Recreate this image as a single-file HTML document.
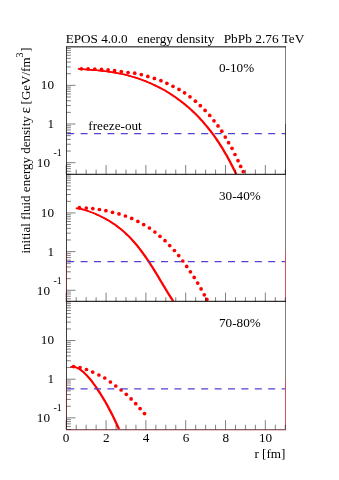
<!DOCTYPE html>
<html><head><meta charset="utf-8"><title>EPOS energy density</title>
<style>
html,body{margin:0;padding:0;background:#fff;}
body{width:339px;height:480px;position:relative;overflow:hidden;font-family:"Liberation Serif",serif;}
svg{will-change:transform;}
.t{font-family:"Liberation Serif",serif;font-size:13.2px;fill:#000;}
.s{font-family:"Liberation Serif",serif;font-size:10px;fill:#000;}
</style></head><body>
<svg width="339" height="480" viewBox="0 0 339 480" style="position:absolute;left:0;top:0">
<rect width="339" height="480" fill="#fff"/>
<clipPath id="c0"><rect x="66.50" y="46.70" width="219.00" height="127.60"/></clipPath>
<g clip-path="url(#c0)" fill="none" stroke="#ff0000" stroke-width="1.5"><path d="M78.30 68.83 C78.63 68.86 79.63 68.94 80.30 69.00 C80.97 69.05 81.63 69.10 82.30 69.15 C82.97 69.20 83.63 69.25 84.30 69.31 C84.97 69.36 85.63 69.41 86.30 69.46 C86.97 69.51 87.63 69.56 88.30 69.61 C88.97 69.66 89.63 69.71 90.30 69.77 C90.97 69.82 91.63 69.87 92.30 69.93 C92.97 69.98 93.63 70.04 94.30 70.10 C94.97 70.15 95.63 70.21 96.30 70.27 C96.97 70.34 97.63 70.40 98.30 70.46 C98.97 70.53 99.63 70.60 100.30 70.67 C100.97 70.74 101.63 70.81 102.30 70.88 C102.97 70.96 103.63 71.04 104.30 71.12 C104.97 71.20 105.63 71.28 106.30 71.37 C106.97 71.45 107.63 71.54 108.30 71.64 C108.97 71.73 109.63 71.83 110.30 71.93 C110.97 72.03 111.63 72.13 112.30 72.24 C112.97 72.34 113.63 72.45 114.30 72.57 C114.97 72.68 115.63 72.80 116.30 72.92 C116.97 73.04 117.63 73.17 118.30 73.30 C118.97 73.43 119.63 73.56 120.30 73.70 C120.97 73.84 121.63 73.98 122.30 74.13 C122.97 74.28 123.63 74.43 124.30 74.59 C124.97 74.74 125.63 74.90 126.30 75.07 C126.97 75.23 127.63 75.40 128.30 75.58 C128.97 75.75 129.63 75.93 130.30 76.11 C130.97 76.30 131.63 76.49 132.30 76.68 C132.97 76.88 133.63 77.07 134.30 77.28 C134.97 77.48 135.63 77.69 136.30 77.90 C136.97 78.12 137.63 78.34 138.30 78.56 C138.97 78.79 139.63 79.02 140.30 79.25 C140.97 79.49 141.63 79.73 142.30 79.97 C142.97 80.22 143.63 80.47 144.30 80.72 C144.97 80.98 145.63 81.24 146.30 81.51 C146.97 81.78 147.63 82.05 148.30 82.33 C148.97 82.61 149.63 82.90 150.30 83.19 C150.97 83.48 151.63 83.78 152.30 84.08 C152.97 84.38 153.63 84.69 154.30 85.01 C154.97 85.32 155.63 85.64 156.30 85.97 C156.97 86.30 157.63 86.63 158.30 86.97 C158.97 87.31 159.63 87.66 160.30 88.01 C160.97 88.36 161.63 88.72 162.30 89.09 C162.97 89.45 163.63 89.83 164.30 90.21 C164.97 90.59 165.63 90.97 166.30 91.37 C166.97 91.76 167.63 92.16 168.30 92.57 C168.97 92.98 169.63 93.40 170.30 93.82 C170.97 94.24 171.63 94.67 172.30 95.11 C172.97 95.55 173.63 96.00 174.30 96.45 C174.97 96.91 175.63 97.37 176.30 97.84 C176.97 98.31 177.63 98.79 178.30 99.27 C178.97 99.76 179.63 100.26 180.30 100.76 C180.97 101.27 181.63 101.78 182.30 102.30 C182.97 102.83 183.63 103.36 184.30 103.90 C184.97 104.44 185.63 104.99 186.30 105.55 C186.97 106.11 187.63 106.68 188.30 107.26 C188.97 107.84 189.63 108.44 190.30 109.04 C190.97 109.64 191.63 110.25 192.30 110.87 C192.97 111.50 193.63 112.13 194.30 112.78 C194.97 113.42 195.63 114.08 196.30 114.75 C196.97 115.42 197.63 116.10 198.30 116.79 C198.97 117.49 199.63 118.19 200.30 118.91 C200.97 119.63 201.63 120.36 202.30 121.11 C202.97 121.86 203.63 122.62 204.30 123.39 C204.97 124.16 205.63 124.95 206.30 125.75 C206.97 126.56 207.63 127.37 208.30 128.21 C208.97 129.04 209.63 129.89 210.30 130.75 C210.97 131.62 211.63 132.50 212.30 133.39 C212.97 134.29 213.63 135.20 214.30 136.14 C214.97 137.07 215.63 138.02 216.30 138.98 C216.97 139.95 217.63 140.94 218.30 141.94 C218.97 142.95 219.63 143.97 220.30 145.02 C220.97 146.06 221.63 147.12 222.30 148.21 C222.97 149.29 223.63 150.40 224.30 151.53 C224.97 152.66 225.63 153.81 226.30 154.98 C226.97 156.15 227.63 157.34 228.30 158.56 C228.97 159.78 229.63 161.03 230.30 162.29 C230.97 163.56 231.63 164.85 232.30 166.17 C232.97 167.49 233.65 168.87 234.30 170.21 C234.95 171.54 235.88 173.52 236.20 174.19" transform="translate(-0.45,0)"/><path d="M78.30 68.83 C78.63 68.86 79.63 68.94 80.30 69.00 C80.97 69.05 81.63 69.10 82.30 69.15 C82.97 69.20 83.63 69.25 84.30 69.31 C84.97 69.36 85.63 69.41 86.30 69.46 C86.97 69.51 87.63 69.56 88.30 69.61 C88.97 69.66 89.63 69.71 90.30 69.77 C90.97 69.82 91.63 69.87 92.30 69.93 C92.97 69.98 93.63 70.04 94.30 70.10 C94.97 70.15 95.63 70.21 96.30 70.27 C96.97 70.34 97.63 70.40 98.30 70.46 C98.97 70.53 99.63 70.60 100.30 70.67 C100.97 70.74 101.63 70.81 102.30 70.88 C102.97 70.96 103.63 71.04 104.30 71.12 C104.97 71.20 105.63 71.28 106.30 71.37 C106.97 71.45 107.63 71.54 108.30 71.64 C108.97 71.73 109.63 71.83 110.30 71.93 C110.97 72.03 111.63 72.13 112.30 72.24 C112.97 72.34 113.63 72.45 114.30 72.57 C114.97 72.68 115.63 72.80 116.30 72.92 C116.97 73.04 117.63 73.17 118.30 73.30 C118.97 73.43 119.63 73.56 120.30 73.70 C120.97 73.84 121.63 73.98 122.30 74.13 C122.97 74.28 123.63 74.43 124.30 74.59 C124.97 74.74 125.63 74.90 126.30 75.07 C126.97 75.23 127.63 75.40 128.30 75.58 C128.97 75.75 129.63 75.93 130.30 76.11 C130.97 76.30 131.63 76.49 132.30 76.68 C132.97 76.88 133.63 77.07 134.30 77.28 C134.97 77.48 135.63 77.69 136.30 77.90 C136.97 78.12 137.63 78.34 138.30 78.56 C138.97 78.79 139.63 79.02 140.30 79.25 C140.97 79.49 141.63 79.73 142.30 79.97 C142.97 80.22 143.63 80.47 144.30 80.72 C144.97 80.98 145.63 81.24 146.30 81.51 C146.97 81.78 147.63 82.05 148.30 82.33 C148.97 82.61 149.63 82.90 150.30 83.19 C150.97 83.48 151.63 83.78 152.30 84.08 C152.97 84.38 153.63 84.69 154.30 85.01 C154.97 85.32 155.63 85.64 156.30 85.97 C156.97 86.30 157.63 86.63 158.30 86.97 C158.97 87.31 159.63 87.66 160.30 88.01 C160.97 88.36 161.63 88.72 162.30 89.09 C162.97 89.45 163.63 89.83 164.30 90.21 C164.97 90.59 165.63 90.97 166.30 91.37 C166.97 91.76 167.63 92.16 168.30 92.57 C168.97 92.98 169.63 93.40 170.30 93.82 C170.97 94.24 171.63 94.67 172.30 95.11 C172.97 95.55 173.63 96.00 174.30 96.45 C174.97 96.91 175.63 97.37 176.30 97.84 C176.97 98.31 177.63 98.79 178.30 99.27 C178.97 99.76 179.63 100.26 180.30 100.76 C180.97 101.27 181.63 101.78 182.30 102.30 C182.97 102.83 183.63 103.36 184.30 103.90 C184.97 104.44 185.63 104.99 186.30 105.55 C186.97 106.11 187.63 106.68 188.30 107.26 C188.97 107.84 189.63 108.44 190.30 109.04 C190.97 109.64 191.63 110.25 192.30 110.87 C192.97 111.50 193.63 112.13 194.30 112.78 C194.97 113.42 195.63 114.08 196.30 114.75 C196.97 115.42 197.63 116.10 198.30 116.79 C198.97 117.49 199.63 118.19 200.30 118.91 C200.97 119.63 201.63 120.36 202.30 121.11 C202.97 121.86 203.63 122.62 204.30 123.39 C204.97 124.16 205.63 124.95 206.30 125.75 C206.97 126.56 207.63 127.37 208.30 128.21 C208.97 129.04 209.63 129.89 210.30 130.75 C210.97 131.62 211.63 132.50 212.30 133.39 C212.97 134.29 213.63 135.20 214.30 136.14 C214.97 137.07 215.63 138.02 216.30 138.98 C216.97 139.95 217.63 140.94 218.30 141.94 C218.97 142.95 219.63 143.97 220.30 145.02 C220.97 146.06 221.63 147.12 222.30 148.21 C222.97 149.29 223.63 150.40 224.30 151.53 C224.97 152.66 225.63 153.81 226.30 154.98 C226.97 156.15 227.63 157.34 228.30 158.56 C228.97 159.78 229.63 161.03 230.30 162.29 C230.97 163.56 231.63 164.85 232.30 166.17 C232.97 167.49 233.65 168.87 234.30 170.21 C234.95 171.54 235.88 173.52 236.20 174.19" transform="translate(0.45,0)"/></g>
<circle cx="81.40" cy="68.85" r="1.85" fill="#ff0000"/>
<circle cx="88.10" cy="68.90" r="1.85" fill="#ff0000"/>
<circle cx="94.80" cy="69.15" r="1.85" fill="#ff0000"/>
<circle cx="101.50" cy="69.35" r="1.85" fill="#ff0000"/>
<circle cx="108.10" cy="69.95" r="1.85" fill="#ff0000"/>
<circle cx="114.60" cy="70.70" r="1.85" fill="#ff0000"/>
<circle cx="121.30" cy="71.60" r="1.85" fill="#ff0000"/>
<circle cx="128.10" cy="72.50" r="1.85" fill="#ff0000"/>
<circle cx="134.70" cy="73.20" r="1.85" fill="#ff0000"/>
<circle cx="141.30" cy="74.60" r="1.85" fill="#ff0000"/>
<circle cx="147.80" cy="76.40" r="1.85" fill="#ff0000"/>
<circle cx="154.40" cy="78.40" r="1.85" fill="#ff0000"/>
<circle cx="160.90" cy="80.70" r="1.85" fill="#ff0000"/>
<circle cx="166.90" cy="83.30" r="1.85" fill="#ff0000"/>
<circle cx="173.00" cy="86.30" r="1.85" fill="#ff0000"/>
<circle cx="179.00" cy="89.40" r="1.85" fill="#ff0000"/>
<circle cx="184.60" cy="92.80" r="1.85" fill="#ff0000"/>
<circle cx="190.00" cy="96.80" r="1.85" fill="#ff0000"/>
<circle cx="195.40" cy="101.20" r="1.85" fill="#ff0000"/>
<circle cx="200.30" cy="105.70" r="1.85" fill="#ff0000"/>
<circle cx="205.10" cy="110.40" r="1.85" fill="#ff0000"/>
<circle cx="209.70" cy="115.40" r="1.85" fill="#ff0000"/>
<circle cx="214.00" cy="120.80" r="1.85" fill="#ff0000"/>
<circle cx="218.00" cy="125.90" r="1.85" fill="#ff0000"/>
<circle cx="221.80" cy="131.20" r="1.85" fill="#ff0000"/>
<circle cx="225.30" cy="137.10" r="1.85" fill="#ff0000"/>
<circle cx="228.60" cy="142.70" r="1.85" fill="#ff0000"/>
<circle cx="232.00" cy="148.30" r="1.85" fill="#ff0000"/>
<circle cx="235.00" cy="154.50" r="1.85" fill="#ff0000"/>
<circle cx="238.00" cy="160.70" r="1.85" fill="#ff0000"/>
<circle cx="240.70" cy="166.40" r="1.85" fill="#ff0000"/>
<circle cx="243.30" cy="171.70" r="1.85" fill="#ff0000"/>
<path d="M67.20 133.65 H285.50" stroke="#5043cf" stroke-width="1.25" stroke-dasharray="7 6.4" fill="none"/>
<path d="M66.00 46.87 H286.00" stroke="#000" stroke-width="1"/>
<path d="M285.50 46.70 V174.30" stroke="#000" stroke-width="1" stroke-opacity="0.5"/>
<path d="M285.50 124.01 V174.30" stroke="#000" stroke-width="1" stroke-opacity="0.45"/>
<path d="M66.50 46.70 V174.30" stroke="#000" stroke-width="1" stroke-opacity="0.75"/>
<path d="M66.00 174.42 H286.00" stroke="#343030" stroke-width="1.15"/>
<path d="M66.50 174.30 h4.40" stroke="#000" stroke-width="0.5"/>
<path d="M66.50 171.24 h4.40" stroke="#000" stroke-width="0.5"/>
<path d="M66.50 168.65 h4.40" stroke="#000" stroke-width="0.5"/>
<path d="M66.50 166.41 h4.40" stroke="#000" stroke-width="0.5"/>
<path d="M66.50 164.43 h4.40" stroke="#000" stroke-width="0.5"/>
<path d="M66.50 162.66 h9.00" stroke="#000" stroke-width="0.5"/>
<path d="M66.50 151.03 h4.40" stroke="#000" stroke-width="0.5"/>
<path d="M66.50 144.22 h4.40" stroke="#000" stroke-width="0.5"/>
<path d="M66.50 139.39 h4.40" stroke="#000" stroke-width="0.5"/>
<path d="M66.50 135.65 h4.40" stroke="#000" stroke-width="0.5"/>
<path d="M66.50 132.58 h4.40" stroke="#000" stroke-width="0.5"/>
<path d="M66.50 130.00 h4.40" stroke="#000" stroke-width="0.5"/>
<path d="M66.50 127.76 h4.40" stroke="#000" stroke-width="0.5"/>
<path d="M66.50 125.78 h4.40" stroke="#000" stroke-width="0.5"/>
<path d="M66.50 124.01 h9.00" stroke="#000" stroke-width="0.5"/>
<path d="M66.50 112.37 h4.40" stroke="#000" stroke-width="0.5"/>
<path d="M66.50 105.57 h4.40" stroke="#000" stroke-width="0.5"/>
<path d="M66.50 100.74 h4.40" stroke="#000" stroke-width="0.5"/>
<path d="M66.50 96.99 h4.40" stroke="#000" stroke-width="0.5"/>
<path d="M66.50 93.93 h4.40" stroke="#000" stroke-width="0.5"/>
<path d="M66.50 91.34 h4.40" stroke="#000" stroke-width="0.5"/>
<path d="M66.50 89.10 h4.40" stroke="#000" stroke-width="0.5"/>
<path d="M66.50 87.12 h4.40" stroke="#000" stroke-width="0.5"/>
<path d="M66.50 85.35 h9.00" stroke="#000" stroke-width="0.5"/>
<path d="M66.50 73.72 h4.40" stroke="#000" stroke-width="0.5"/>
<path d="M66.50 66.91 h4.40" stroke="#000" stroke-width="0.5"/>
<path d="M66.50 62.08 h4.40" stroke="#000" stroke-width="0.5"/>
<path d="M66.50 58.34 h4.40" stroke="#000" stroke-width="0.5"/>
<path d="M66.50 55.28 h4.40" stroke="#000" stroke-width="0.5"/>
<path d="M66.50 52.69 h4.40" stroke="#000" stroke-width="0.5"/>
<path d="M66.50 50.45 h4.40" stroke="#000" stroke-width="0.5"/>
<path d="M66.50 48.47 h4.40" stroke="#000" stroke-width="0.5"/>
<path d="M66.25 174.30 v-9.30" stroke="#000" stroke-width="0.5"/>
<path d="M76.20 174.30 v-4.75" stroke="#000" stroke-width="0.5"/>
<path d="M86.16 174.30 v-4.75" stroke="#000" stroke-width="0.5"/>
<path d="M96.11 174.30 v-4.75" stroke="#000" stroke-width="0.5"/>
<path d="M106.07 174.30 v-9.30" stroke="#000" stroke-width="0.5"/>
<path d="M116.02 174.30 v-4.75" stroke="#000" stroke-width="0.5"/>
<path d="M125.98 174.30 v-4.75" stroke="#000" stroke-width="0.5"/>
<path d="M135.93 174.30 v-4.75" stroke="#000" stroke-width="0.5"/>
<path d="M145.89 174.30 v-9.30" stroke="#000" stroke-width="0.5"/>
<path d="M155.84 174.30 v-4.75" stroke="#000" stroke-width="0.5"/>
<path d="M165.80 174.30 v-4.75" stroke="#000" stroke-width="0.5"/>
<path d="M175.75 174.30 v-4.75" stroke="#000" stroke-width="0.5"/>
<path d="M185.70 174.30 v-9.30" stroke="#000" stroke-width="0.5"/>
<path d="M195.66 174.30 v-4.75" stroke="#000" stroke-width="0.5"/>
<path d="M205.61 174.30 v-4.75" stroke="#000" stroke-width="0.5"/>
<path d="M215.57 174.30 v-4.75" stroke="#000" stroke-width="0.5"/>
<path d="M225.52 174.30 v-9.30" stroke="#000" stroke-width="0.5"/>
<path d="M235.48 174.30 v-4.75" stroke="#000" stroke-width="0.5"/>
<path d="M245.43 174.30 v-4.75" stroke="#000" stroke-width="0.5"/>
<path d="M255.39 174.30 v-4.75" stroke="#000" stroke-width="0.5"/>
<path d="M265.34 174.30 v-9.30" stroke="#000" stroke-width="0.5"/>
<path d="M275.30 174.30 v-4.75" stroke="#000" stroke-width="0.5"/>
<path d="M285.25 174.30 v-4.75" stroke="#000" stroke-width="0.5"/>
<text x="54" y="88.90" text-anchor="end" class="t">10</text>
<text x="54" y="128.20" text-anchor="end" class="t">1</text>
<text x="50" y="167.20" text-anchor="end" class="t">10</text>
<text x="53.5" y="156.20" class="s">-1</text>
<text x="219" y="72.20" class="t">0-10%</text>
<clipPath id="c1"><rect x="66.50" y="174.30" width="219.00" height="127.60"/></clipPath>
<g clip-path="url(#c1)" fill="none" stroke="#ff0000" stroke-width="1.5"><path d="M76.20 208.12 C76.53 208.17 77.53 208.31 78.20 208.43 C78.87 208.55 79.53 208.69 80.20 208.83 C80.87 208.98 81.53 209.14 82.20 209.31 C82.87 209.48 83.53 209.67 84.20 209.86 C84.87 210.05 85.53 210.26 86.20 210.47 C86.87 210.68 87.53 210.90 88.20 211.13 C88.87 211.36 89.53 211.60 90.20 211.85 C90.87 212.10 91.53 212.35 92.20 212.62 C92.87 212.88 93.53 213.15 94.20 213.43 C94.87 213.70 95.53 213.99 96.20 214.28 C96.87 214.57 97.53 214.87 98.20 215.18 C98.87 215.49 99.53 215.80 100.20 216.13 C100.87 216.45 101.53 216.78 102.20 217.12 C102.87 217.46 103.53 217.80 104.20 218.16 C104.87 218.51 105.53 218.87 106.20 219.25 C106.87 219.62 107.53 220.00 108.20 220.39 C108.87 220.78 109.53 221.18 110.20 221.60 C110.87 222.01 111.53 222.43 112.20 222.86 C112.87 223.30 113.53 223.74 114.20 224.20 C114.87 224.65 115.53 225.12 116.20 225.60 C116.87 226.08 117.53 226.57 118.20 227.08 C118.87 227.59 119.53 228.11 120.20 228.64 C120.87 229.18 121.53 229.72 122.20 230.29 C122.87 230.85 123.53 231.43 124.20 232.02 C124.87 232.62 125.53 233.23 126.20 233.85 C126.87 234.48 127.53 235.12 128.20 235.78 C128.87 236.44 129.53 237.12 130.20 237.81 C130.87 238.50 131.53 239.21 132.20 239.94 C132.87 240.67 133.53 241.41 134.20 242.17 C134.87 242.94 135.53 243.72 136.20 244.52 C136.87 245.31 137.53 246.13 138.20 246.97 C138.87 247.80 139.53 248.65 140.20 249.52 C140.87 250.39 141.53 251.28 142.20 252.18 C142.87 253.09 143.53 254.01 144.20 254.94 C144.87 255.88 145.53 256.84 146.20 257.81 C146.87 258.78 147.53 259.76 148.20 260.76 C148.87 261.76 149.53 262.78 150.20 263.81 C150.87 264.83 151.53 265.88 152.20 266.93 C152.87 267.98 153.53 269.05 154.20 270.12 C154.87 271.20 155.53 272.28 156.20 273.38 C156.87 274.47 157.53 275.57 158.20 276.67 C158.87 277.78 159.53 278.89 160.20 280.01 C160.87 281.12 161.53 282.24 162.20 283.36 C162.87 284.47 163.53 285.59 164.20 286.70 C164.87 287.81 165.53 288.92 166.20 290.02 C166.87 291.12 167.53 292.22 168.20 293.30 C168.87 294.38 169.53 295.45 170.20 296.51 C170.87 297.56 171.62 298.72 172.20 299.62 C172.78 300.51 173.45 301.49 173.70 301.87" transform="translate(-0.45,0)"/><path d="M76.20 208.12 C76.53 208.17 77.53 208.31 78.20 208.43 C78.87 208.55 79.53 208.69 80.20 208.83 C80.87 208.98 81.53 209.14 82.20 209.31 C82.87 209.48 83.53 209.67 84.20 209.86 C84.87 210.05 85.53 210.26 86.20 210.47 C86.87 210.68 87.53 210.90 88.20 211.13 C88.87 211.36 89.53 211.60 90.20 211.85 C90.87 212.10 91.53 212.35 92.20 212.62 C92.87 212.88 93.53 213.15 94.20 213.43 C94.87 213.70 95.53 213.99 96.20 214.28 C96.87 214.57 97.53 214.87 98.20 215.18 C98.87 215.49 99.53 215.80 100.20 216.13 C100.87 216.45 101.53 216.78 102.20 217.12 C102.87 217.46 103.53 217.80 104.20 218.16 C104.87 218.51 105.53 218.87 106.20 219.25 C106.87 219.62 107.53 220.00 108.20 220.39 C108.87 220.78 109.53 221.18 110.20 221.60 C110.87 222.01 111.53 222.43 112.20 222.86 C112.87 223.30 113.53 223.74 114.20 224.20 C114.87 224.65 115.53 225.12 116.20 225.60 C116.87 226.08 117.53 226.57 118.20 227.08 C118.87 227.59 119.53 228.11 120.20 228.64 C120.87 229.18 121.53 229.72 122.20 230.29 C122.87 230.85 123.53 231.43 124.20 232.02 C124.87 232.62 125.53 233.23 126.20 233.85 C126.87 234.48 127.53 235.12 128.20 235.78 C128.87 236.44 129.53 237.12 130.20 237.81 C130.87 238.50 131.53 239.21 132.20 239.94 C132.87 240.67 133.53 241.41 134.20 242.17 C134.87 242.94 135.53 243.72 136.20 244.52 C136.87 245.31 137.53 246.13 138.20 246.97 C138.87 247.80 139.53 248.65 140.20 249.52 C140.87 250.39 141.53 251.28 142.20 252.18 C142.87 253.09 143.53 254.01 144.20 254.94 C144.87 255.88 145.53 256.84 146.20 257.81 C146.87 258.78 147.53 259.76 148.20 260.76 C148.87 261.76 149.53 262.78 150.20 263.81 C150.87 264.83 151.53 265.88 152.20 266.93 C152.87 267.98 153.53 269.05 154.20 270.12 C154.87 271.20 155.53 272.28 156.20 273.38 C156.87 274.47 157.53 275.57 158.20 276.67 C158.87 277.78 159.53 278.89 160.20 280.01 C160.87 281.12 161.53 282.24 162.20 283.36 C162.87 284.47 163.53 285.59 164.20 286.70 C164.87 287.81 165.53 288.92 166.20 290.02 C166.87 291.12 167.53 292.22 168.20 293.30 C168.87 294.38 169.53 295.45 170.20 296.51 C170.87 297.56 171.62 298.72 172.20 299.62 C172.78 300.51 173.45 301.49 173.70 301.87" transform="translate(0.45,0)"/></g>
<circle cx="79.40" cy="207.70" r="1.85" fill="#ff0000"/>
<circle cx="86.30" cy="208.10" r="1.85" fill="#ff0000"/>
<circle cx="92.80" cy="208.60" r="1.85" fill="#ff0000"/>
<circle cx="99.40" cy="209.50" r="1.85" fill="#ff0000"/>
<circle cx="105.90" cy="210.70" r="1.85" fill="#ff0000"/>
<circle cx="112.50" cy="212.30" r="1.85" fill="#ff0000"/>
<circle cx="119.00" cy="213.90" r="1.85" fill="#ff0000"/>
<circle cx="125.40" cy="216.00" r="1.85" fill="#ff0000"/>
<circle cx="131.70" cy="218.40" r="1.85" fill="#ff0000"/>
<circle cx="137.90" cy="221.40" r="1.85" fill="#ff0000"/>
<circle cx="143.70" cy="224.60" r="1.85" fill="#ff0000"/>
<circle cx="149.40" cy="228.00" r="1.85" fill="#ff0000"/>
<circle cx="154.90" cy="232.00" r="1.85" fill="#ff0000"/>
<circle cx="160.00" cy="236.30" r="1.85" fill="#ff0000"/>
<circle cx="165.00" cy="240.70" r="1.85" fill="#ff0000"/>
<circle cx="169.70" cy="245.60" r="1.85" fill="#ff0000"/>
<circle cx="174.40" cy="250.50" r="1.85" fill="#ff0000"/>
<circle cx="178.70" cy="255.60" r="1.85" fill="#ff0000"/>
<circle cx="182.80" cy="261.00" r="1.85" fill="#ff0000"/>
<circle cx="186.70" cy="266.40" r="1.85" fill="#ff0000"/>
<circle cx="190.40" cy="271.80" r="1.85" fill="#ff0000"/>
<circle cx="194.20" cy="277.40" r="1.85" fill="#ff0000"/>
<circle cx="197.70" cy="283.10" r="1.85" fill="#ff0000"/>
<circle cx="201.10" cy="288.90" r="1.85" fill="#ff0000"/>
<circle cx="204.30" cy="294.80" r="1.85" fill="#ff0000"/>
<circle cx="206.90" cy="299.40" r="1.85" fill="#ff0000"/>
<path d="M67.20 261.50 H285.50" stroke="#5043cf" stroke-width="1.25" stroke-dasharray="7 6.4" fill="none"/>
<path d="M285.50 174.30 V301.90" stroke="#000" stroke-width="1" stroke-opacity="0.5"/>
<path d="M285.50 251.61 V301.90" stroke="#e04858" stroke-width="1" stroke-opacity="0.75"/>
<path d="M66.50 174.30 V301.90" stroke="#000" stroke-width="1" stroke-opacity="0.75"/>
<path d="M66.35 251.61 V301.90" stroke="#ff2020" stroke-width="1.3" stroke-opacity="0.18"/>
<path d="M66.00 301.42 H286.00" stroke="#343030" stroke-width="1.15"/>
<path d="M66.50 301.90 h4.40" stroke="#000" stroke-width="0.5"/>
<path d="M66.50 298.84 h4.40" stroke="#000" stroke-width="0.5"/>
<path d="M66.50 296.25 h4.40" stroke="#000" stroke-width="0.5"/>
<path d="M66.50 294.01 h4.40" stroke="#000" stroke-width="0.5"/>
<path d="M66.50 292.03 h4.40" stroke="#000" stroke-width="0.5"/>
<path d="M66.50 290.26 h9.00" stroke="#000" stroke-width="0.5"/>
<path d="M66.50 278.63 h4.40" stroke="#000" stroke-width="0.5"/>
<path d="M66.50 271.82 h4.40" stroke="#000" stroke-width="0.5"/>
<path d="M66.50 266.99 h4.40" stroke="#000" stroke-width="0.5"/>
<path d="M66.50 263.25 h4.40" stroke="#000" stroke-width="0.5"/>
<path d="M66.50 260.18 h4.40" stroke="#000" stroke-width="0.5"/>
<path d="M66.50 257.60 h4.40" stroke="#000" stroke-width="0.5"/>
<path d="M66.50 255.36 h4.40" stroke="#000" stroke-width="0.5"/>
<path d="M66.50 253.38 h4.40" stroke="#000" stroke-width="0.5"/>
<path d="M66.50 251.61 h9.00" stroke="#000" stroke-width="0.5"/>
<path d="M66.50 239.97 h4.40" stroke="#000" stroke-width="0.5"/>
<path d="M66.50 233.17 h4.40" stroke="#000" stroke-width="0.5"/>
<path d="M66.50 228.34 h4.40" stroke="#000" stroke-width="0.5"/>
<path d="M66.50 224.59 h4.40" stroke="#000" stroke-width="0.5"/>
<path d="M66.50 221.53 h4.40" stroke="#000" stroke-width="0.5"/>
<path d="M66.50 218.94 h4.40" stroke="#000" stroke-width="0.5"/>
<path d="M66.50 216.70 h4.40" stroke="#000" stroke-width="0.5"/>
<path d="M66.50 214.72 h4.40" stroke="#000" stroke-width="0.5"/>
<path d="M66.50 212.95 h9.00" stroke="#000" stroke-width="0.5"/>
<path d="M66.50 201.32 h4.40" stroke="#000" stroke-width="0.5"/>
<path d="M66.50 194.51 h4.40" stroke="#000" stroke-width="0.5"/>
<path d="M66.50 189.68 h4.40" stroke="#000" stroke-width="0.5"/>
<path d="M66.50 185.94 h4.40" stroke="#000" stroke-width="0.5"/>
<path d="M66.50 182.88 h4.40" stroke="#000" stroke-width="0.5"/>
<path d="M66.50 180.29 h4.40" stroke="#000" stroke-width="0.5"/>
<path d="M66.50 178.05 h4.40" stroke="#000" stroke-width="0.5"/>
<path d="M66.50 176.07 h4.40" stroke="#000" stroke-width="0.5"/>
<path d="M66.25 301.90 v-9.30" stroke="#000" stroke-width="0.5"/>
<path d="M76.20 301.90 v-4.75" stroke="#000" stroke-width="0.5"/>
<path d="M86.16 301.90 v-4.75" stroke="#000" stroke-width="0.5"/>
<path d="M96.11 301.90 v-4.75" stroke="#000" stroke-width="0.5"/>
<path d="M106.07 301.90 v-9.30" stroke="#000" stroke-width="0.5"/>
<path d="M116.02 301.90 v-4.75" stroke="#000" stroke-width="0.5"/>
<path d="M125.98 301.90 v-4.75" stroke="#000" stroke-width="0.5"/>
<path d="M135.93 301.90 v-4.75" stroke="#000" stroke-width="0.5"/>
<path d="M145.89 301.90 v-9.30" stroke="#000" stroke-width="0.5"/>
<path d="M155.84 301.90 v-4.75" stroke="#000" stroke-width="0.5"/>
<path d="M165.80 301.90 v-4.75" stroke="#000" stroke-width="0.5"/>
<path d="M175.75 301.90 v-4.75" stroke="#000" stroke-width="0.5"/>
<path d="M185.70 301.90 v-9.30" stroke="#000" stroke-width="0.5"/>
<path d="M195.66 301.90 v-4.75" stroke="#000" stroke-width="0.5"/>
<path d="M205.61 301.90 v-4.75" stroke="#000" stroke-width="0.5"/>
<path d="M215.57 301.90 v-4.75" stroke="#000" stroke-width="0.5"/>
<path d="M225.52 301.90 v-9.30" stroke="#000" stroke-width="0.5"/>
<path d="M235.48 301.90 v-4.75" stroke="#000" stroke-width="0.5"/>
<path d="M245.43 301.90 v-4.75" stroke="#000" stroke-width="0.5"/>
<path d="M255.39 301.90 v-4.75" stroke="#000" stroke-width="0.5"/>
<path d="M265.34 301.90 v-9.30" stroke="#000" stroke-width="0.5"/>
<path d="M275.30 301.90 v-4.75" stroke="#000" stroke-width="0.5"/>
<path d="M285.25 301.90 v-4.75" stroke="#000" stroke-width="0.5"/>
<text x="54" y="216.50" text-anchor="end" class="t">10</text>
<text x="54" y="255.80" text-anchor="end" class="t">1</text>
<text x="50" y="294.80" text-anchor="end" class="t">10</text>
<text x="53.5" y="283.80" class="s">-1</text>
<text x="219" y="199.80" class="t">30-40%</text>
<clipPath id="c2"><rect x="66.50" y="301.90" width="219.00" height="127.60"/></clipPath>
<g clip-path="url(#c2)" fill="none" stroke="#ff0000" stroke-width="1.5"><path d="M70.60 366.94 C70.93 366.91 71.93 366.76 72.60 366.78 C73.27 366.80 73.93 366.89 74.60 367.03 C75.27 367.18 75.93 367.39 76.60 367.66 C77.27 367.92 77.93 368.24 78.60 368.62 C79.27 368.99 79.93 369.41 80.60 369.88 C81.27 370.35 81.93 370.87 82.60 371.42 C83.27 371.98 83.93 372.58 84.60 373.21 C85.27 373.84 85.93 374.52 86.60 375.22 C87.27 375.93 87.93 376.67 88.60 377.44 C89.27 378.21 89.93 379.01 90.60 379.84 C91.27 380.67 91.93 381.53 92.60 382.41 C93.27 383.29 93.93 384.20 94.60 385.13 C95.27 386.06 95.93 387.01 96.60 387.99 C97.27 388.97 97.93 389.97 98.60 390.99 C99.27 392.01 99.93 393.05 100.60 394.11 C101.27 395.17 101.93 396.25 102.60 397.36 C103.27 398.46 103.93 399.58 104.60 400.73 C105.27 401.88 105.93 403.04 106.60 404.23 C107.27 405.42 107.93 406.62 108.60 407.86 C109.27 409.09 109.93 410.34 110.60 411.62 C111.27 412.90 111.93 414.20 112.60 415.53 C113.27 416.87 113.93 418.22 114.60 419.61 C115.27 420.99 115.93 422.41 116.60 423.85 C117.27 425.30 118.18 427.36 118.60 428.29 C119.02 429.22 119.02 429.25 119.10 429.44" transform="translate(-0.45,0)"/><path d="M70.60 366.94 C70.93 366.91 71.93 366.76 72.60 366.78 C73.27 366.80 73.93 366.89 74.60 367.03 C75.27 367.18 75.93 367.39 76.60 367.66 C77.27 367.92 77.93 368.24 78.60 368.62 C79.27 368.99 79.93 369.41 80.60 369.88 C81.27 370.35 81.93 370.87 82.60 371.42 C83.27 371.98 83.93 372.58 84.60 373.21 C85.27 373.84 85.93 374.52 86.60 375.22 C87.27 375.93 87.93 376.67 88.60 377.44 C89.27 378.21 89.93 379.01 90.60 379.84 C91.27 380.67 91.93 381.53 92.60 382.41 C93.27 383.29 93.93 384.20 94.60 385.13 C95.27 386.06 95.93 387.01 96.60 387.99 C97.27 388.97 97.93 389.97 98.60 390.99 C99.27 392.01 99.93 393.05 100.60 394.11 C101.27 395.17 101.93 396.25 102.60 397.36 C103.27 398.46 103.93 399.58 104.60 400.73 C105.27 401.88 105.93 403.04 106.60 404.23 C107.27 405.42 107.93 406.62 108.60 407.86 C109.27 409.09 109.93 410.34 110.60 411.62 C111.27 412.90 111.93 414.20 112.60 415.53 C113.27 416.87 113.93 418.22 114.60 419.61 C115.27 420.99 115.93 422.41 116.60 423.85 C117.27 425.30 118.18 427.36 118.60 428.29 C119.02 429.22 119.02 429.25 119.10 429.44" transform="translate(0.45,0)"/></g>
<circle cx="73.60" cy="366.60" r="1.85" fill="#ff0000"/>
<circle cx="80.00" cy="367.50" r="1.85" fill="#ff0000"/>
<circle cx="86.50" cy="369.50" r="1.85" fill="#ff0000"/>
<circle cx="92.70" cy="372.10" r="1.85" fill="#ff0000"/>
<circle cx="98.90" cy="375.00" r="1.85" fill="#ff0000"/>
<circle cx="104.80" cy="378.00" r="1.85" fill="#ff0000"/>
<circle cx="110.40" cy="382.00" r="1.85" fill="#ff0000"/>
<circle cx="115.80" cy="386.00" r="1.85" fill="#ff0000"/>
<circle cx="121.10" cy="390.00" r="1.85" fill="#ff0000"/>
<circle cx="126.30" cy="394.30" r="1.85" fill="#ff0000"/>
<circle cx="131.10" cy="398.90" r="1.85" fill="#ff0000"/>
<circle cx="135.70" cy="403.70" r="1.85" fill="#ff0000"/>
<circle cx="140.10" cy="408.60" r="1.85" fill="#ff0000"/>
<circle cx="144.50" cy="413.60" r="1.85" fill="#ff0000"/>
<path d="M67.20 388.85 H285.50" stroke="#5043cf" stroke-width="1.25" stroke-dasharray="7 6.4" fill="none"/>
<path d="M285.50 301.90 V429.50" stroke="#000" stroke-width="1" stroke-opacity="0.5"/>
<path d="M285.50 379.21 V429.50" stroke="#e04858" stroke-width="1" stroke-opacity="0.75"/>
<path d="M66.50 301.90 V429.50" stroke="#000" stroke-width="1" stroke-opacity="0.75"/>
<path d="M66.35 379.21 V429.50" stroke="#ff2020" stroke-width="1.3" stroke-opacity="0.18"/>
<rect x="66" y="429" width="220" height="1" fill="#8c6268"/>
<rect x="66" y="430" width="220" height="1" fill="#e2c6c9"/>
<path d="M66.50 429.50 h4.40" stroke="#000" stroke-width="0.5"/>
<path d="M66.50 426.44 h4.40" stroke="#000" stroke-width="0.5"/>
<path d="M66.50 423.85 h4.40" stroke="#000" stroke-width="0.5"/>
<path d="M66.50 421.61 h4.40" stroke="#000" stroke-width="0.5"/>
<path d="M66.50 419.63 h4.40" stroke="#000" stroke-width="0.5"/>
<path d="M66.50 417.86 h9.00" stroke="#000" stroke-width="0.5"/>
<path d="M66.50 406.23 h4.40" stroke="#000" stroke-width="0.5"/>
<path d="M66.50 399.42 h4.40" stroke="#000" stroke-width="0.5"/>
<path d="M66.50 394.59 h4.40" stroke="#000" stroke-width="0.5"/>
<path d="M66.50 390.85 h4.40" stroke="#000" stroke-width="0.5"/>
<path d="M66.50 387.78 h4.40" stroke="#000" stroke-width="0.5"/>
<path d="M66.50 385.20 h4.40" stroke="#000" stroke-width="0.5"/>
<path d="M66.50 382.96 h4.40" stroke="#000" stroke-width="0.5"/>
<path d="M66.50 380.98 h4.40" stroke="#000" stroke-width="0.5"/>
<path d="M66.50 379.21 h9.00" stroke="#000" stroke-width="0.5"/>
<path d="M66.50 367.57 h4.40" stroke="#000" stroke-width="0.5"/>
<path d="M66.50 360.77 h4.40" stroke="#000" stroke-width="0.5"/>
<path d="M66.50 355.94 h4.40" stroke="#000" stroke-width="0.5"/>
<path d="M66.50 352.19 h4.40" stroke="#000" stroke-width="0.5"/>
<path d="M66.50 349.13 h4.40" stroke="#000" stroke-width="0.5"/>
<path d="M66.50 346.54 h4.40" stroke="#000" stroke-width="0.5"/>
<path d="M66.50 344.30 h4.40" stroke="#000" stroke-width="0.5"/>
<path d="M66.50 342.32 h4.40" stroke="#000" stroke-width="0.5"/>
<path d="M66.50 340.55 h9.00" stroke="#000" stroke-width="0.5"/>
<path d="M66.50 328.92 h4.40" stroke="#000" stroke-width="0.5"/>
<path d="M66.50 322.11 h4.40" stroke="#000" stroke-width="0.5"/>
<path d="M66.50 317.28 h4.40" stroke="#000" stroke-width="0.5"/>
<path d="M66.50 313.54 h4.40" stroke="#000" stroke-width="0.5"/>
<path d="M66.50 310.48 h4.40" stroke="#000" stroke-width="0.5"/>
<path d="M66.50 307.89 h4.40" stroke="#000" stroke-width="0.5"/>
<path d="M66.50 305.65 h4.40" stroke="#000" stroke-width="0.5"/>
<path d="M66.50 303.67 h4.40" stroke="#000" stroke-width="0.5"/>
<path d="M66.25 429.50 v-9.30" stroke="#000" stroke-width="0.5"/>
<path d="M76.20 429.50 v-4.75" stroke="#000" stroke-width="0.5"/>
<path d="M86.16 429.50 v-4.75" stroke="#000" stroke-width="0.5"/>
<path d="M96.11 429.50 v-4.75" stroke="#000" stroke-width="0.5"/>
<path d="M106.07 429.50 v-9.30" stroke="#000" stroke-width="0.5"/>
<path d="M116.02 429.50 v-4.75" stroke="#000" stroke-width="0.5"/>
<path d="M125.98 429.50 v-4.75" stroke="#000" stroke-width="0.5"/>
<path d="M135.93 429.50 v-4.75" stroke="#000" stroke-width="0.5"/>
<path d="M145.89 429.50 v-9.30" stroke="#000" stroke-width="0.5"/>
<path d="M155.84 429.50 v-4.75" stroke="#000" stroke-width="0.5"/>
<path d="M165.80 429.50 v-4.75" stroke="#000" stroke-width="0.5"/>
<path d="M175.75 429.50 v-4.75" stroke="#000" stroke-width="0.5"/>
<path d="M185.70 429.50 v-9.30" stroke="#000" stroke-width="0.5"/>
<path d="M195.66 429.50 v-4.75" stroke="#000" stroke-width="0.5"/>
<path d="M205.61 429.50 v-4.75" stroke="#000" stroke-width="0.5"/>
<path d="M215.57 429.50 v-4.75" stroke="#000" stroke-width="0.5"/>
<path d="M225.52 429.50 v-9.30" stroke="#000" stroke-width="0.5"/>
<path d="M235.48 429.50 v-4.75" stroke="#000" stroke-width="0.5"/>
<path d="M245.43 429.50 v-4.75" stroke="#000" stroke-width="0.5"/>
<path d="M255.39 429.50 v-4.75" stroke="#000" stroke-width="0.5"/>
<path d="M265.34 429.50 v-9.30" stroke="#000" stroke-width="0.5"/>
<path d="M275.30 429.50 v-4.75" stroke="#000" stroke-width="0.5"/>
<path d="M285.25 429.50 v-4.75" stroke="#000" stroke-width="0.5"/>
<text x="54" y="344.10" text-anchor="end" class="t">10</text>
<text x="54" y="383.40" text-anchor="end" class="t">1</text>
<text x="50" y="422.40" text-anchor="end" class="t">10</text>
<text x="53.5" y="411.40" class="s">-1</text>
<text x="219" y="327.40" class="t">70-80%</text>
<text x="88.3" y="129.7" class="t">freeze-out</text>
<text x="65.7" y="43.1" class="t">EPOS 4.0.0</text>
<text x="137.3" y="43.1" class="t">energy density</text>
<text x="223.7" y="43.1" class="t" style="font-size:13.35px">PbPb 2.76 TeV</text>
<text x="66.10" y="442.3" text-anchor="middle" class="t">0</text>
<text x="106.32" y="442.3" text-anchor="middle" class="t">2</text>
<text x="146.14" y="442.3" text-anchor="middle" class="t">4</text>
<text x="185.95" y="442.3" text-anchor="middle" class="t">6</text>
<text x="225.77" y="442.3" text-anchor="middle" class="t">8</text>
<text x="265.59" y="442.3" text-anchor="middle" class="t">10</text>
<text x="285.5" y="457.8" text-anchor="end" class="t">r [fm]</text>
<text transform="translate(29.7,47.3) rotate(-90)" text-anchor="end" class="t" style="font-size:13px">initial fluid energy density <tspan font-size="15.5" dx="-0.6">ε</tspan><tspan dx="-0.6"> [GeV/fm</tspan><tspan dy="-6.3" font-size="10">3</tspan><tspan dy="6.3" dx="0.8">]</tspan></text>
</svg>
</body></html>
